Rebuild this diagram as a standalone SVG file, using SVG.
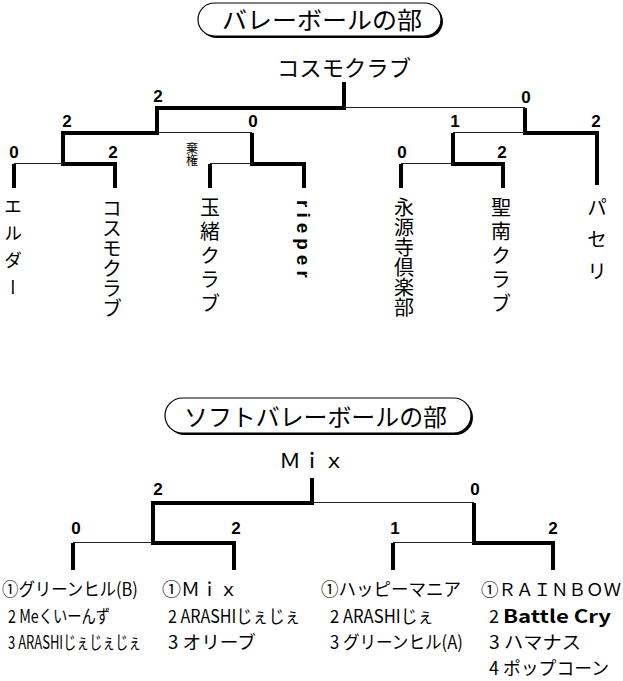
<svg xmlns="http://www.w3.org/2000/svg" width="623" height="681" viewBox="0 0 623 681">
<style>
.bg{fill:#fff}
.thick{fill:none;stroke:#000;stroke-width:4;stroke-linejoin:miter;stroke-linecap:butt}
.thin{fill:none;stroke:#222;stroke-width:1}
.pill{fill:#fff;stroke:#000;stroke-width:1.2}
.shadow{fill:#000}
.jp{font-family:"Noto Sans CJK JP","Noto Sans CJK SC",sans-serif;fill:#000}
.ttl{font-size:24px}
.win{font-size:22px}
.vt{font-size:20px;writing-mode:tb}
.sc{font-family:"Liberation Sans",Arial,sans-serif;font-size:17px;font-weight:bold;text-anchor:middle;fill:#000}
.row{font-size:18px}
</style>
<rect class="bg" x="0" y="0" width="623" height="681"/>

<!-- Volleyball section -->
<g id="title-volley">
<rect class="shadow" x="200" y="5" width="243" height="33" rx="16.5"/>
<rect class="pill" x="198" y="3" width="243" height="33" rx="16.5"/>
<text class="jp ttl" x="222" y="29" textLength="200" lengthAdjust="spacingAndGlyphs">バレーボールの部</text>
</g>
<g id="winner-volley"><text class="jp win" x="277" y="76" textLength="134" lengthAdjust="spacingAndGlyphs">コスモクラブ</text></g>

<g id="connectors-volley">
<polyline class="thick" points="115,188 115,164 63,164 63,133 157,133 157,108 344,108 344,82"/>
<line class="thick" x1="14" y1="164" x2="14" y2="188"/>
<line class="thick" x1="210" y1="164" x2="210" y2="188"/>
<polyline class="thick" points="304,188 304,164 252,164 252,133"/>
<polyline class="thick" points="503,188 503,164 453,164 453,133"/>
<line class="thick" x1="401" y1="164" x2="401" y2="188"/>
<polyline class="thick" points="597,185 597,133 525,133 525,108"/>
<line class="thin" x1="14" y1="163.5" x2="63" y2="163.5"/>
<line class="thin" x1="210" y1="163.5" x2="252" y2="163.5"/>
<line class="thin" x1="157" y1="132.5" x2="252" y2="132.5"/>
<line class="thin" x1="401" y1="163.5" x2="453" y2="163.5"/>
<line class="thin" x1="453" y1="132.5" x2="525" y2="132.5"/>
<line class="thin" x1="344" y1="107.5" x2="525" y2="107.5"/>
</g>

<g id="scores-volley">
<text class="sc" x="158" y="102">2</text>
<text class="sc" x="526" y="103">0</text>
<text class="sc" x="67" y="127">2</text>
<text class="sc" x="253" y="127">0</text>
<text class="sc" x="455" y="127">1</text>
<text class="sc" x="596" y="127">2</text>
<text class="sc" x="14" y="158">0</text>
<text class="sc" x="113" y="158">2</text>
<text class="sc" x="402" y="158">0</text>
<text class="sc" x="502" y="158">2</text>
<text class="jp" x="192" y="142" style="font-size:12px;writing-mode:tb">棄権</text>
</g>

<g id="team-elder"><text class="jp vt" x="13" y="197" style="font-size:18px;letter-spacing:9px">エルダー</text></g>
<g id="team-cosmo"><text class="jp vt" x="112" y="198">コスモクラブ</text></g>
<g id="team-tamao"><text class="jp vt" x="210" y="197" style="letter-spacing:4px">玉緒クラブ</text></g>
<g id="team-rieper"><text x="303" y="200" style="font-family:'Liberation Sans',Arial,sans-serif;font-size:19px;font-weight:bold;writing-mode:tb;letter-spacing:5px">rieper</text></g>
<g id="team-eigenji"><text class="jp vt" x="404" y="197">永源寺倶楽部</text></g>
<g id="team-seinan"><text class="jp vt" x="501" y="197" style="letter-spacing:4px">聖南クラブ</text></g>
<g id="team-paseri"><text class="jp vt" x="597" y="197" style="letter-spacing:12px">パセリ</text></g>

<!-- Soft volleyball section -->
<g id="title-soft">
<rect class="shadow" x="167" y="400" width="306" height="35" rx="17.5"/>
<rect class="pill" x="165" y="398" width="306" height="35" rx="17.5"/>
<text class="jp ttl" x="184" y="426" textLength="263" lengthAdjust="spacingAndGlyphs">ソフトバレーボールの部</text>
</g>
<g id="winner-soft"><text class="jp" x="279" y="468" style="font-size:20px" textLength="66" lengthAdjust="spacingAndGlyphs">Ｍｉｘ</text></g>

<g id="connectors-soft">
<polyline class="thick" points="234,570 234,543 153,543 153,503 312,503 312,478"/>
<line class="thick" x1="73" y1="543" x2="73" y2="570"/>
<polyline class="thick" points="553,570 553,543 474,543 474,503"/>
<line class="thick" x1="393" y1="543" x2="393" y2="570"/>
<line class="thin" x1="73" y1="542.5" x2="153" y2="542.5"/>
<line class="thin" x1="393" y1="542.5" x2="474" y2="542.5"/>
<line class="thin" x1="312" y1="502.5" x2="474" y2="502.5"/>
</g>

<g id="scores-soft">
<text class="sc" x="158" y="495">2</text>
<text class="sc" x="475" y="495">0</text>
<text class="sc" x="76" y="534">0</text>
<text class="sc" x="236" y="534">2</text>
<text class="sc" x="395" y="534">1</text>
<text class="sc" x="553" y="534">2</text>
</g>

<g id="group-1">
<text class="jp row" transform="translate(2,596) scale(0.9,1)" x="0" y="0" textLength="151" lengthAdjust="spacingAndGlyphs">①グリーンヒル(B)</text>
<text class="jp row" transform="translate(8,623) scale(0.78,1)" x="0" y="0" textLength="131" lengthAdjust="spacingAndGlyphs">2 Meくいーんず</text>
<text class="jp row" transform="translate(8,649) scale(0.72,1)" x="0" y="0" textLength="185" lengthAdjust="spacingAndGlyphs">3 ARASHIじぇじぇじぇ</text>
</g>
<g id="group-2">
<text class="jp row" x="162" y="596" textLength="76" lengthAdjust="spacingAndGlyphs">①Ｍｉｘ</text>
<text class="jp row" transform="translate(168,623) scale(0.89,1)" x="0" y="0" textLength="149" lengthAdjust="spacingAndGlyphs">2 ARASHIじぇじぇ</text>
<text class="jp row" x="168" y="649" textLength="88" lengthAdjust="spacingAndGlyphs">3 オリーブ</text>
</g>
<g id="group-3">
<text class="jp row" x="321" y="596" textLength="140" lengthAdjust="spacingAndGlyphs">①ハッピーマニア</text>
<text class="jp row" transform="translate(330,623) scale(0.92,1)" x="0" y="0" textLength="113" lengthAdjust="spacingAndGlyphs">2 ARASHIじぇ</text>
<text class="jp row" transform="translate(330,649) scale(0.91,1)" x="0" y="0" textLength="146" lengthAdjust="spacingAndGlyphs">3 グリーンヒル(A)</text>
</g>
<g id="group-4">
<text class="jp" x="481" y="596" style="font-size:17.5px" textLength="140" lengthAdjust="spacingAndGlyphs">①ＲＡＩＮＢＯＷ</text>
<text class="jp row" x="489" y="623">2 <tspan x="503" style="font-weight:bold" textLength="108" lengthAdjust="spacingAndGlyphs">Battle Cry</tspan></text>
<text class="jp row" x="489" y="649" textLength="92" lengthAdjust="spacingAndGlyphs">3 ハマナス</text>
<text class="jp row" x="489" y="675" textLength="120" lengthAdjust="spacingAndGlyphs">4 ポップコーン</text>
</g>
</svg>
